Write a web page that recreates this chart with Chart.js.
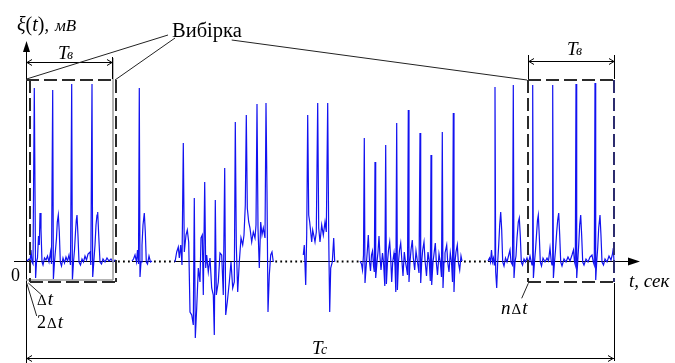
<!DOCTYPE html>
<html>
<head>
<meta charset="utf-8">
<script src="https://cdn.jsdelivr.net/npm/chart.js"></script>
<style>
  html, body { margin: 0; padding: 0; background: #fff; }
  canvas { display: block; }
</style>
</head>
<body>
<canvas id="chart" width="675" height="363"></canvas>
<script>
// ECG record fragments, each point is [t, sec ; xi, mV]
const segment1 = [
  [0.05,0],[0.15,0.02],[0.2,-0.01],[0.25,0.11],[0.3,-0.01],[0.35,-0.03],[0.415,1.73],[0.48,-0.17],
  [0.525,-0.01],[0.575,0.03],[0.625,0.25],[0.665,0.16],[0.7,0.48],[0.75,0.31],[0.8,-0.01],[0.85,-0.04],
  [0.925,0.03],[1.0,0.01],[1.075,0.05],[1.15,-0.01],[1.225,0.09],[1.275,-0.03],[1.335,1.71],[1.37,-0.18],
  [1.425,-0.01],[1.475,0.11],[1.525,0.23],[1.565,0.39],[1.615,0.46],[1.665,0.29],[1.715,-0.01],[1.775,-0.05],
  [1.85,0.03],[1.925,-0.02],[2.0,0.04],[2.075,0],[2.15,0.06],[2.225,-0.04],[2.285,1.77],[2.32,-0.19],
  [2.375,-0.01],[2.425,0.11],[2.475,0.29],[2.515,0.41],[2.55,0.46],[2.6,0.25],[2.65,-0.01],[2.725,-0.04],
  [2.8,0.02],[2.875,-0.01],[2.95,0.05],[3.025,0.01],[3.1,0.07],[3.2,0.09],[3.24,-0.04],[3.3,1.77],
  [3.335,-0.16],[3.39,-0.01],[3.45,0.16],[3.5,0.36],[3.55,0.46],[3.585,0.49],[3.635,0.26],[3.7,-0.01],
  [3.775,-0.03],[3.85,0.02],[3.95,-0.01],[4.05,0.03],[4.15,0],[4.25,0.02],[4.35,-0.01],[4.45,0.01],[4.5,0]
];
const segment2 = [
  [5.3,0],[5.375,0.02],[5.45,0.06],[5.525,-0.01],[5.575,0.11],[5.625,-0.03],[5.665,1.73],[5.7,-0.16],
  [5.75,-0.01],[5.8,0.16],[5.85,0.36],[5.915,0.48],[5.965,0.29],[6.015,-0.01],[6.075,-0.03],[6.15,0.05],
  [6.225,-0.01],[6.3,0]
];
const segment3 = [
  [7.45,-0.01],[7.535,0.09],[7.615,0.14],[7.665,0.03],[7.735,0.16],[7.8,-0.04],[7.865,1.18],[7.915,0.09],
  [8.0,0.26],[8.065,0.31],[8.135,0.19],[8.2,-0.51],[8.285,-0.54],[8.365,-0.64],[8.415,0.63],[8.465,-0.77],
  [8.535,-0.47],[8.615,-0.07],[8.7,-0.21],[8.75,0.23],[8.815,0.26],[8.865,-0.34],[8.935,0.79],[8.985,-0.07],
  [9.035,0.06],[9.115,-0.11],[9.2,0.03],[9.285,-0.27],[9.365,-0.34],[9.415,-0.74],[9.465,0.61],[9.515,-0.34],
  [9.615,-0.21],[9.7,0.08],[9.785,0.06],[9.865,-0.34],[9.935,0.93],[9.985,-0.54],[10.065,-0.41],[10.165,-0.21],
  [10.25,-0.01],[10.335,-0.27],[10.415,-0.21],[10.465,1.39],[10.515,0.16],[10.585,-0.31],[10.665,-0.01],[10.75,0.23],
  [10.835,0.16],[10.9,0.26],[10.965,0.56],[11.015,1.46],[11.065,0.53],[11.135,0.39],[11.2,0.33],[11.285,0.19],
  [11.365,0.29],[11.45,0.23],[11.5,0.36],[11.55,1.57],[11.6,0.33],[11.665,-0.07],[11.735,0.39],[11.8,0.26],
  [11.865,0.33],[11.95,0.23],[12.0,1.58],[12.05,0.69],[12.1,-0.51],[12.165,-0.14],[12.235,0.06],[12.3,0.09],
  [12.365,-0.01]
];
const segment4 = [
  [13.865,0.06],[13.915,0.16],[13.985,-0.24],[14.035,0.26],[14.085,1.46],[14.135,0.46],[14.185,0.39],[14.235,0.29],
  [14.285,0.19],[14.335,0.31],[14.385,0.26],[14.45,0.19],[14.515,0.29],[14.585,1.58],[14.635,0.33],[14.7,0.19],
  [14.785,0.36],[14.865,0.26],[14.95,0.39],[15.015,0.29],[15.085,1.58],[15.135,0.26],[15.185,-0.51],[15.235,-0.07],
  [15.315,-0.01],[15.385,0.23],[15.435,-0.01]
];
const segment5 = [
  [16.7,0],[16.775,-0.03],[16.825,-0.09],[16.875,0.06],[16.915,1.23],[16.95,-0.22],[17.025,-0.01],[17.075,0.13],
  [17.115,0.26],[17.175,-0.01],[17.225,-0.1],[17.275,0.06],[17.325,0.1],[17.375,-0.05],[17.415,-0.11],[17.45,0.99],
  [17.485,-0.17],[17.55,-0.01],[17.6,0.09],[17.65,0.25],[17.7,0.04],[17.75,-0.09],[17.825,0.08],[17.875,-0.01],
  [17.94,-0.25],[17.985,1.16],[18.02,-0.23],[18.075,-0.01],[18.125,0.11],[18.185,0.19],[18.235,0.03],[18.285,-0.21],
  [18.335,-0.01],[18.4,0.08],[18.45,-0.05],[18.49,-0.31],[18.535,1.38],[18.57,-0.29],[18.625,-0.01],[18.675,0.11],
  [18.735,0.18],[18.785,0.03],[18.85,-0.15],[18.915,0.09],[18.975,-0.01],[19.025,-0.07],[19.075,-0.14],[19.115,1.51],
  [19.15,-0.21],[19.2,-0.01],[19.25,0.11],[19.315,0.21],[19.365,0.03],[19.435,-0.09],[19.5,0.1],[19.575,-0.01],
  [19.65,-0.12],[19.7,1.28],[19.735,-0.22],[19.785,-0.01],[19.835,0.11],[19.9,0.19],[19.95,0.01],[20.025,-0.15],
  [20.1,0.09],[20.165,-0.01],[20.215,-0.2],[20.25,1.06],[20.285,-0.24],[20.35,-0.01],[20.4,0.07],[20.465,0.18],
  [20.515,-0.01],[20.575,-0.14],[20.65,0.07],[20.715,-0.01],[20.775,-0.16],[20.815,1.29],[20.85,-0.27],[20.9,-0.01],
  [20.95,0.08],[21.035,0.16],[21.085,-0.01],[21.15,-0.11],[21.215,0.08],[21.275,-0.01],[21.325,-0.21],[21.365,1.48],
  [21.4,-0.31],[21.45,-0.01],[21.5,0.09],[21.565,0.16],[21.615,-0.01],[21.685,-0.09],[21.75,0.05],[21.8,0]
];
const segment6 = [
  [23.1,0],[23.175,0.03],[23.225,-0.01],[23.275,0.11],[23.325,-0.01],[23.375,0.03],[23.415,-0.04],[23.45,1.74],
  [23.485,-0.11],[23.535,-0.27],[23.585,-0.01],[23.635,0.16],[23.685,0.36],[23.735,0.49],[23.785,0.31],[23.835,-0.01],
  [23.9,-0.05],[23.975,0.03],[24.05,-0.01],[24.125,0.05],[24.2,0.11],[24.25,-0.01],[24.325,-0.04],[24.365,1.76],
  [24.4,-0.17],[24.45,-0.01],[24.5,0.05],[24.55,0.23],[24.615,0.39],[24.665,0.43],[24.715,0.25],[24.765,-0.01],
  [24.825,-0.04],[24.9,0.02],[24.975,-0.01],[25.05,0.03],[25.125,-0.02],[25.2,0.05],[25.265,-0.01],[25.3,-0.04],
  [25.335,1.76],[25.37,-0.17],[25.425,-0.01],[25.475,0.11],[25.525,0.26],[25.575,0.41],[25.615,0.46],[25.665,0.25],
  [25.715,-0.01],[25.775,-0.05],[25.85,0.03],[25.95,-0.01],[26.05,0.03],[26.125,0],[26.2,0.13],[26.265,-0.01],
  [26.3,-0.04],[26.335,1.76],[26.37,-0.17],[26.425,-0.01],[26.475,0.11],[26.535,0.29],[26.585,0.41],[26.635,0.48],
  [26.685,0.26],[26.735,-0.01],[26.8,-0.05],[26.9,0.02],[27.0,-0.01],[27.1,0.04],[27.2,0],[27.3,0.06],
  [27.375,0.11],[27.425,-0.01],[27.465,-0.04],[27.5,1.77],[27.535,-0.17],[27.585,-0.01],[27.635,0.16],[27.685,0.36],
  [27.735,0.46],[27.785,0.25],[27.835,-0.01],[27.9,-0.04],[28.0,0.02],[28.1,-0.01],[28.2,0.04],[28.3,0.06],
  [28.365,-0.01],[28.415,-0.04],[28.45,1.78],[28.485,-0.19],[28.535,-0.01],[28.585,0.13],[28.635,0.33],[28.7,0.46],
  [28.75,0.25],[28.8,-0.01],[28.875,-0.04],[28.95,0.02],[29.05,-0.01],[29.15,0.05],[29.25,0.01],[29.325,0.07],
  [29.365,0.13],[29.4,-0.01],[29.45,0]
];
const segments = [segment1, segment2, segment3, segment4, segment5, segment6];

// sample windows T_в (sec) and the whole record T_c
const windowStarts = [0.2, 25.1];
const windowEnds = [4.5, 29.4];
const windowTop = 1.81;      // mV
const windowBottom = -0.21;  // mV
const recordEnd = 29.4;

const FONT = '"Liberation Serif", "Times New Roman", serif';

function line(ctx, x1, y1, x2, y2) {
  ctx.beginPath();
  ctx.moveTo(x1, y1);
  ctx.lineTo(x2, y2);
  ctx.stroke();
}

// filled arrow head, tip at (x, y), pointing along (dx, dy)
function arrowHead(ctx, x, y, dx, dy, len, half) {
  const bx = x - dx * len, by = y - dy * len;
  ctx.beginPath();
  ctx.moveTo(x, y);
  ctx.lineTo(bx - dy * half, by + dx * half);
  ctx.lineTo(bx + dy * half, by - dx * half);
  ctx.closePath();
  ctx.fill();
}

// thin open arrow used on dimension lines
function chevron(ctx, x, y, dir) {
  ctx.beginPath();
  ctx.moveTo(x + dir * 5, y - 3);
  ctx.lineTo(x, y);
  ctx.lineTo(x + dir * 5, y + 3);
  ctx.stroke();
}

// draws text made of several runs with different fonts
function runs(ctx, x, y, parts) {
  for (const [text, font, dx] of parts) {
    ctx.font = font;
    x += dx || 0;
    ctx.fillText(text, x, y);
    x += ctx.measureText(text).width;
  }
}

const annotations = {
  id: 'annotations',
  beforeDatasetsDraw(chart) {
    const ctx = chart.ctx;
    const X = t => chart.scales.x.getPixelForValue(t);
    const Y = v => chart.scales.y.getPixelForValue(v);
    const c = p => Math.round(p) + 0.5;
    ctx.save();
    ctx.strokeStyle = '#000';
    ctx.fillStyle = '#000';
    ctx.lineWidth = 1;

    // vertical axis
    line(ctx, c(X(0)), Y(2.1), c(X(0)), Y(-1.02));
    arrowHead(ctx, c(X(0)), Y(2.2), 0, -1, 11, 3.5);

    // time axis: solid under the signal, dotted in the gaps
    const y0 = c(Y(0));
    segments.forEach((seg, i) => {
      const from = i === 0 ? X(-0.6) : X(seg[0][0]);
      const to = i === segments.length - 1 ? X(30.15) : X(seg[seg.length - 1][0]);
      ctx.setLineDash([]);
      ctx.lineWidth = 1;
      line(ctx, from, y0, to, y0);
      if (i < segments.length - 1) {
        ctx.lineWidth = 1.8;
        ctx.setLineDash([1.8, 3.2]);
        line(ctx, to + 2, y0, X(segments[i + 1][0][0]), y0);
      }
    });
    ctx.setLineDash([]);
    arrowHead(ctx, X(30.7), y0, 1, 0, 12, 4);
    ctx.restore();
  },
  afterDatasetsDraw(chart) {
    const ctx = chart.ctx;
    const X = t => chart.scales.x.getPixelForValue(t);
    const Y = v => chart.scales.y.getPixelForValue(v);
    const c = p => Math.round(p) + 0.5;
    ctx.save();

    // solid grey frame of the first window
    ctx.strokeStyle = '#9a9a9a';
    ctx.lineWidth = 1.5;
    line(ctx, X(4.35), Y(2.03), X(4.35), Y(-0.19));
    line(ctx, X(0), Y(-0.19), X(4.35), Y(-0.19));

    // dashed sample windows
    ctx.lineWidth = 2;
    ctx.setLineDash([13, 5]);
    windowStarts.forEach((t0, i) => {
      const t1 = windowEnds[i];
      const top = Math.round(Y(windowTop)), bot = Math.round(Y(windowBottom));
      ctx.strokeStyle = '#2b2b2b';
      line(ctx, i === 0 ? X(0) : X(t0), top, X(t1), top);
      line(ctx, Math.round(X(t0)), top, Math.round(X(t0)), bot);
      line(ctx, X(t0), bot, X(t1), bot);
      ctx.strokeStyle = i === 0 ? '#2b2b2b' : '#2c2c6e';
      line(ctx, Math.round(X(t1)), top, Math.round(X(t1)), bot);
    });
    ctx.setLineDash([]);

    // dimension lines
    ctx.strokeStyle = '#000';
    ctx.lineWidth = 1;
    let y = c(Y(1.99));
    line(ctx, X(0), y, X(4.3), y);
    chevron(ctx, X(0) + 1, y, 1);
    chevron(ctx, X(4.3), y, -1);
    line(ctx, c(X(4.3)), Y(2.04), c(X(4.3)), Y(1.82));

    y = c(Y(2.0));
    line(ctx, X(windowStarts[1]), y, X(windowEnds[1]), y);
    chevron(ctx, X(windowStarts[1]) + 1, y, 1);
    chevron(ctx, X(windowEnds[1]), y, -1);
    line(ctx, c(X(windowStarts[1])), Y(2.06), c(X(windowStarts[1])), Y(1.82));
    line(ctx, c(X(windowEnds[1])), Y(2.06), c(X(windowEnds[1])), Y(1.82));

    y = c(Y(-0.97));
    line(ctx, X(0), y, X(recordEnd), y);
    chevron(ctx, X(0) + 1, y, 1);
    chevron(ctx, X(recordEnd) - 1, y, -1);
    line(ctx, c(X(recordEnd)), Y(-0.22), c(X(recordEnd)), Y(-1.0));

    // leader lines
    ctx.lineWidth = 1;
    ctx.strokeStyle = '#222';
    line(ctx, X(7.1), Y(2.26), X(0.03), Y(1.82));
    line(ctx, X(7.45), Y(2.23), X(4.45), Y(1.81));
    line(ctx, X(10.285), Y(2.21), X(25.05), Y(1.81));
    line(ctx, X(0.115), Y(-0.22), X(0.785), Y(-0.34));
    line(ctx, X(0.035), Y(-0.22), X(0.535), Y(-0.55));
    line(ctx, X(25.115), Y(-0.223), X(24.785), Y(-0.373));

    // labels
    ctx.fillStyle = '#000';
    ctx.textBaseline = 'alphabetic';
    const it = s => 'italic ' + s + 'px ' + FONT;
    const rg = s => s + 'px ' + FONT;
    runs(ctx, X(-0.45), Y(2.3), [['ξ', it(20)], ['(', rg(20)], ['t', it(20)], [')', rg(20)], [',', it(18)], ['мВ', it(17), 6]]);
    runs(ctx, X(7.3), Y(2.24), [['Вибірка', rg(20.5)]]);
    runs(ctx, X(1.6), Y(2.02), [['T', it(19)], ['в', it(14), -1.5]]);
    runs(ctx, X(27.05), Y(2.065), [['T', it(19)], ['в', it(14), -1.5]]);
    runs(ctx, X(14.3), Y(-0.93), [['T', it(19)], ['c', it(14), -1.5]]);
    runs(ctx, X(-0.75), Y(-0.2), [['0', rg(18)]]);
    runs(ctx, X(0.55), Y(-0.44), [['Δ', rg(15)], ['t', it(19), 1]]);
    runs(ctx, X(0.55), Y(-0.67), [['2', rg(18)], ['Δ', rg(15), 1], ['t', it(19), 1]]);
    runs(ctx, X(23.75), Y(-0.53), [['n', it(19)], ['Δ', rg(15), 1], ['t', it(19), 1]]);
    runs(ctx, X(30.15), Y(-0.26), [['t, сек', it(19)]]);
    ctx.restore();
  }
};

const toPoints = seg => seg.map(([t, v]) => ({ x: t, y: v }));

new Chart(document.getElementById('chart'), {
  type: 'line',
  data: {
    datasets: segments.map(seg => ({
      data: toPoints(seg),
      borderColor: '#1212f0',
      borderWidth: 1.2,
      pointRadius: 0,
      tension: 0,
      fill: false
    }))
  },
  options: {
    responsive: false,
    animation: false,
    layout: { padding: 0, autoPadding: false },
    plugins: { legend: { display: false }, tooltip: { enabled: false } },
    scales: {
      x: { type: 'linear', display: false, min: -1.3, max: 32.45 },
      y: { type: 'linear', display: false, min: -1.02, max: 2.61 }
    }
  },
  plugins: [annotations]
});
</script>
</body>
</html>
